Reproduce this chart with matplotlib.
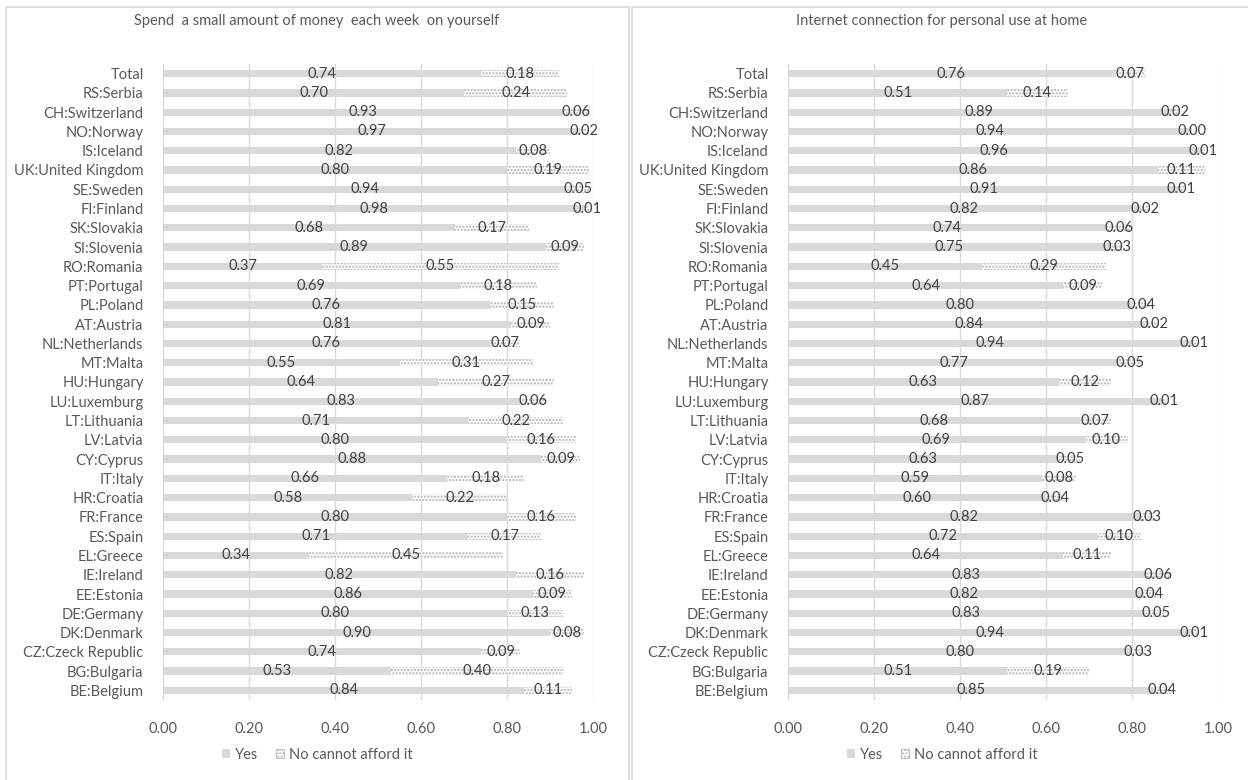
import matplotlib
matplotlib.use("Agg")
import matplotlib.pyplot as plt
from matplotlib.patches import Rectangle, Patch
import numpy as np

plt.rcParams['font.family'] = ['Lato', 'DejaVu Sans']
plt.rcParams['hatch.linewidth'] = 1.0

# ---------------------------------------------------------------- data
countries = [
    "Total", "RS:Serbia", "CH:Switzerland", "NO:Norway", "IS:Iceland",
    "UK:United Kingdom", "SE:Sweden", "FI:Finland", "SK:Slovakia", "SI:Slovenia",
    "RO:Romania", "PT:Portugal", "PL:Poland", "AT:Austria", "NL:Netherlands",
    "MT:Malta", "HU:Hungary", "LU:Luxemburg", "LT:Lithuania", "LV:Latvia",
    "CY:Cyprus", "IT:Italy", "HR:Croatia", "FR:France", "ES:Spain",
    "EL:Greece", "IE:Ireland", "EE:Estonia", "DE:Germany", "DK:Denmark",
    "CZ:Czeck Republic", "BG:Bulgaria", "BE:Belgium",
]

money_yes = [0.74, 0.70, 0.93, 0.97, 0.82, 0.80, 0.94, 0.98, 0.68, 0.89,
             0.37, 0.69, 0.76, 0.81, 0.76, 0.55, 0.64, 0.83, 0.71, 0.80,
             0.88, 0.66, 0.58, 0.80, 0.71, 0.34, 0.82, 0.86, 0.80, 0.90,
             0.74, 0.53, 0.84]
money_no = [0.18, 0.24, 0.06, 0.02, 0.08, 0.19, 0.05, 0.01, 0.17, 0.09,
            0.55, 0.18, 0.15, 0.09, 0.07, 0.31, 0.27, 0.06, 0.22, 0.16,
            0.09, 0.18, 0.22, 0.16, 0.17, 0.45, 0.16, 0.09, 0.13, 0.08,
            0.09, 0.40, 0.11]

internet_yes = [0.76, 0.51, 0.89, 0.94, 0.96, 0.86, 0.91, 0.82, 0.74, 0.75,
                0.45, 0.64, 0.80, 0.84, 0.94, 0.77, 0.63, 0.87, 0.68, 0.69,
                0.63, 0.59, 0.60, 0.82, 0.72, 0.64, 0.83, 0.82, 0.83, 0.94,
                0.80, 0.51, 0.85]
internet_no = [0.07, 0.14, 0.02, 0.00, 0.01, 0.11, 0.01, 0.02, 0.06, 0.03,
               0.29, 0.09, 0.04, 0.02, 0.01, 0.05, 0.12, 0.01, 0.07, 0.10,
               0.05, 0.08, 0.04, 0.03, 0.10, 0.11, 0.06, 0.04, 0.05, 0.01,
               0.03, 0.19, 0.04]

titles = ["Spend  a small amount of money  each week  on yourself",
          "Internet connection for personal use at home"]
ticks = [0.0, 0.2, 0.4, 0.6, 0.8, 1.0]

# ---------------------------------------------------------------- style
W, H = 1248, 780
GREY_BAR = '#d9d9d9'
DOTS = '#b4b4b4'
TXT = '#404040'
AXTXT = '#595959'
GRID = '#d9d9d9'

fig = plt.figure(figsize=(W / 100, H / 100), dpi=100)

# chart borders
for x0, x1 in [(6, 629), (632, 1262)]:
    fig.patches.append(Rectangle((x0 / W, -0.05), (x1 - x0) / W, (H - 7) / H + 0.05,
                                 transform=fig.transFigure, fill=False,
                                 edgecolor='#d9d9d9', linewidth=1.2))


def panel(left_px, yes, no, title, center_px):
    ax = fig.add_axes([left_px / W, (H - 700) / H, 430 / W, 636 / H])
    y = np.arange(len(countries))
    yes = np.array(yes)
    no = np.array(no)

    ax.barh(y, yes, height=0.38, color=GREY_BAR, linewidth=0, zorder=2)
    ax.barh(y, no, left=yes, height=0.38, color='#fafafa', edgecolor=DOTS,
            hatch='.....', linewidth=0, zorder=2)

    for yi, a, b in zip(y, yes, no):
        ax.text(a / 2, yi, f"{a:.2f}", ha='center', va='center',
                fontsize=10.5, color=TXT, zorder=3)
        ax.text(a + b / 2, yi, f"{b:.2f}", ha='center', va='center',
                fontsize=10.5, color=TXT, zorder=3)

    ax.set_xlim(0, 1.0)
    ax.set_ylim(len(countries) - 0.5, -0.5)
    ax.set_yticks(y)
    ax.set_yticklabels(countries, fontsize=10.5, color=AXTXT)
    ax.set_xticks(ticks)
    ax.set_xticklabels([f"{t:.2f}" for t in ticks], fontsize=10.5, color=AXTXT)
    ax.tick_params(axis='y', length=0, pad=14)
    ax.tick_params(axis='x', length=0, pad=16)
    ax.grid(axis='x', color=GRID, linewidth=1, zorder=0)
    ax.set_axisbelow(True)
    for s in ax.spines.values():
        s.set_visible(False)

    fig.text(center_px / W, 1 - 21 / H, title, ha='center', va='center',
             fontsize=10.5, color=AXTXT)

    handles = [Patch(facecolor=GREY_BAR, edgecolor='none', label='Yes'),
               Patch(facecolor='white', edgecolor=DOTS, hatch='.....',
                     linewidth=0.6, label='No cannot afford it')]
    fig.legend(handles=handles, loc='center', bbox_to_anchor=(center_px / W, 1 - 755 / H),
               ncol=2, frameon=False, fontsize=10.5, labelcolor=AXTXT,
               handlelength=0.6, handleheight=0.6, handletextpad=0.3,
               columnspacing=1.2)
    return ax


panel(163, money_yes, money_no, titles[0], 317)
panel(788, internet_yes, internet_no, titles[1], 942)

fig.savefig("out.png", dpi=100)
